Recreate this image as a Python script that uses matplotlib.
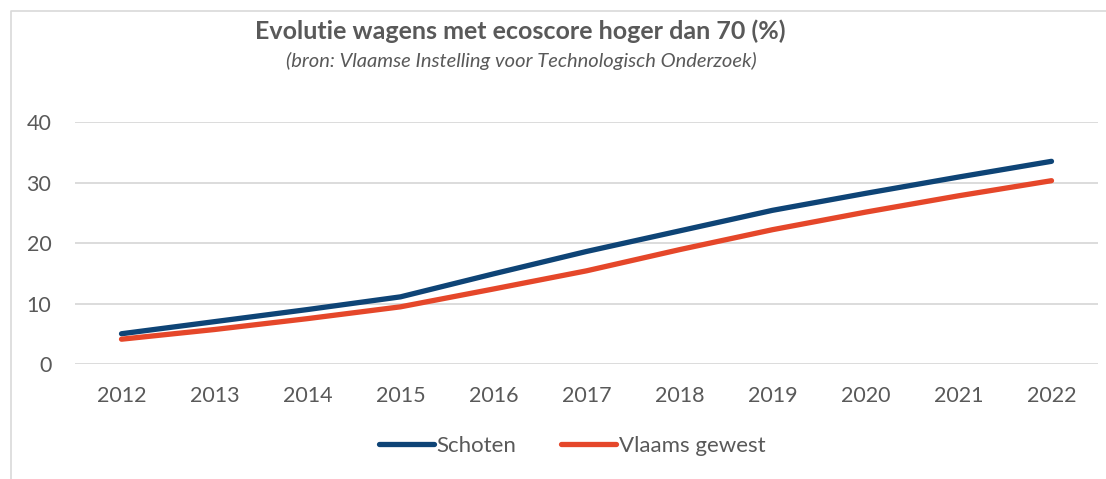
import matplotlib
matplotlib.use("Agg")
import matplotlib.pyplot as plt
from matplotlib.lines import Line2D

plt.rcParams['font.family'] = ['Lato', 'DejaVu Sans']

years = ['2012', '2013', '2014', '2015', '2016', '2017', '2018', '2019', '2020', '2021', '2022']
schoten = [5.0, 7.0, 9.0, 11.1, 14.9, 18.6, 22.0, 25.4, 28.2, 30.9, 33.5]
vlaams = [4.1, 5.7, 7.5, 9.45, 12.4, 15.4, 18.9, 22.2, 25.1, 27.8, 30.3]

W, H = 1106, 479
fig = plt.figure(figsize=(W / 100, H / 100), dpi=100)
ax = fig.add_axes([75 / W, 1 - 364 / H, (1098 - 75) / W, (364 - 122) / H])

x = list(range(len(years)))
ax.plot(x, schoten, color='#0E4476', lw=3.8, solid_capstyle='round', label='Schoten')
ax.plot(x, vlaams, color='#E5472A', lw=3.8, solid_capstyle='round', label='Vlaams gewest')

ax.set_xlim(-0.5, len(years) - 0.5)
ax.set_ylim(0, 40)
ax.set_yticks([0, 10, 20, 30, 40])
ax.set_xticks(x)
ax.set_xticklabels(years)
ax.yaxis.grid(True, color='#D9D9D9', lw=1.3)
ax.set_axisbelow(True)
for s in ax.spines.values():
    s.set_visible(False)
ax.tick_params(axis='both', length=0, labelsize=15.5, labelcolor='#595959')
ax.tick_params(axis='y', pad=17)
ax.tick_params(axis='x', pad=16)

fig.text(520 / W, 1 - 31 / H, 'Evolutie wagens met ecoscore hoger dan 70 (%)',
         ha='center', va='center', fontsize=18, fontweight='bold', color='#595959')
fig.text(521 / W, 1 - 61 / H, '(bron: Vlaamse Instelling voor Technologisch Onderzoek)',
         ha='center', va='center', fontsize=14.5, fontstyle='italic', color='#595959')

fig.legend(loc='center', bbox_to_anchor=(572 / W, 1 - 446 / H), ncol=2, frameon=False,
           fontsize=16, labelcolor='#595959', handlelength=2.5, handletextpad=0.1,
           columnspacing=2.0)

# light grey chart border (left and top)
fig.add_artist(Line2D([11 / W, 11 / W, 1.0], [0.0, 1 - 11 / H, 1 - 11 / H],
                      transform=fig.transFigure, color='#D9D9D9', lw=1.2))

fig.savefig('out.png', dpi=100)
